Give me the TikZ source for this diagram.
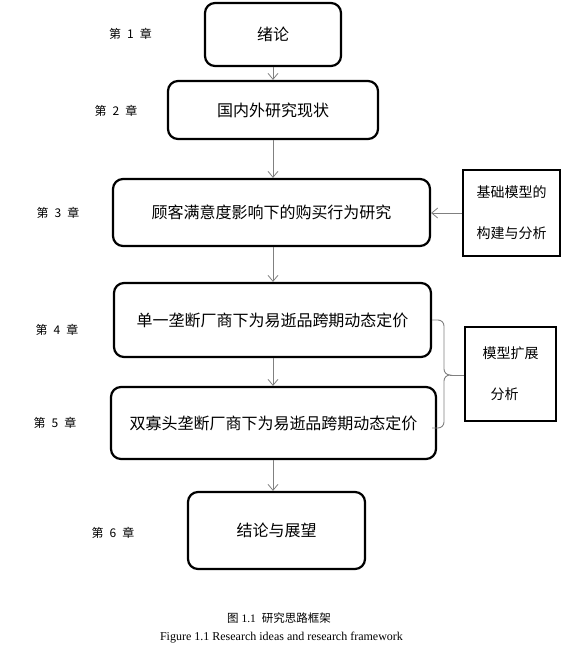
\documentclass[tikz,border=0pt]{standalone}
\usepackage{fontspec}
\setmainfont{Liberation Serif}
\newfontfamily\cjk{Noto Sans CJK SC}
\usetikzlibrary{positioning}
\usetikzlibrary{arrows.meta}
\newcommand\chapno[1]{第\hspace{6pt}#1\hspace{6pt}章}
\tikzset{
  mainbox/.style={draw,line width=2.2pt,rounded corners=10pt,inner sep=0pt,
    font=\cjk\fontsize{16}{19}\selectfont},
  sidebox/.style={draw,line width=2.2pt,inner sep=0pt,align=center,
    font=\cjk\fontsize{14}{17}\selectfont},
  chap/.style={font=\cjk\fontsize{12}{14}\selectfont},
  arr/.style={-{Straight Barb[length=6pt,width=10pt]},draw=gray,line width=0.8pt},
  bracel/.style={draw=gray,line width=0.9pt}
}
\begin{document}
\begin{tikzpicture}[x=1pt,y=-1pt]
		\useasboundingbox (0,0) rectangle (588,646);

		% main chain
		\node[mainbox,minimum width=136pt,minimum height=63pt] (b1) at (273,34.5) {绪论};
		\node[mainbox,minimum width=210pt,minimum height=58pt] (b2) at (273,110) {国内外研究现状};
		\node[mainbox,minimum width=317pt,minimum height=67pt] (b3) at (271.5,212.5) {顾客满意度影响下的购买行为研究};
		\node[mainbox,minimum width=317pt,minimum height=74pt] (b4) at (272.5,320) {单一垄断厂商下为易逝品跨期动态定价};
		\node[mainbox,minimum width=325pt,minimum height=72pt] (b5) at (273.5,423) {双寡头垄断厂商下为易逝品跨期动态定价};
		\node[mainbox,minimum width=177pt,minimum height=77pt] (b6) at (276.5,530.5) {结论与展望};

		% side boxes
		\node[sidebox,minimum width=97pt,minimum height=86pt] (s1) at (511.5,213) {基础模型的\\[24pt]构建与分析};
		\node[sidebox,minimum width=91pt,minimum height=94pt] (s2) at (510.5,374) {模型扩展\\[24pt]分析\hspace*{12pt}};

		% chapter labels
		\node[chap] (c1) at (130.5,34) {\chapno{1}};
		\node[chap] (c2) at (116,111) {\chapno{2}};
		\node[chap] (c3) at (58,213) {\chapno{3}};
		\node[chap] (c4) at (57,330) {\chapno{4}};
		\node[chap] (c5) at (55,423) {\chapno{5}};
		\node[chap] (c6) at (113,533) {\chapno{6}};

		\draw[arr] (b1.south) -- (b2.north);
		\draw[arr] (b2.south) -- (b2.south |- b3.north);
		\draw[arr] (b3.south -| b2.south) -- (b2.south |- b4.north);
		\draw[arr] (b4.south -| b2.south) -- (b2.south |- b5.north);
		\draw[arr] (b5.south -| b2.south) -- (b2.south |- b6.north);
		\draw[arr] (s1.west) -- (s1.west -| b3.east);

		% brace
		\coordinate (tip) at (450,375);
		\draw[bracel] (432,320) -- (438,320) to[out=0,in=90] (444,326) -- (444,369)
			to[out=270,in=180] (tip) to[out=180,in=90] (444,381) -- (444,422)
			to[out=270,in=0] (438,428) -- (432,428);
		\draw[bracel] (tip) -- (tip -| s2.west);

		% caption
		\node (cap1) at (279,618) {\fontsize{11.5}{13}\selectfont{\cjk 图} 1.1\hspace{6pt}{\cjk 研究思路框架}};
		\node (cap2) at (281.5,638) {\fontsize{12}{14}\selectfont Figure 1.1 Research ideas and research framework};
	\end{tikzpicture}
\end{document}
